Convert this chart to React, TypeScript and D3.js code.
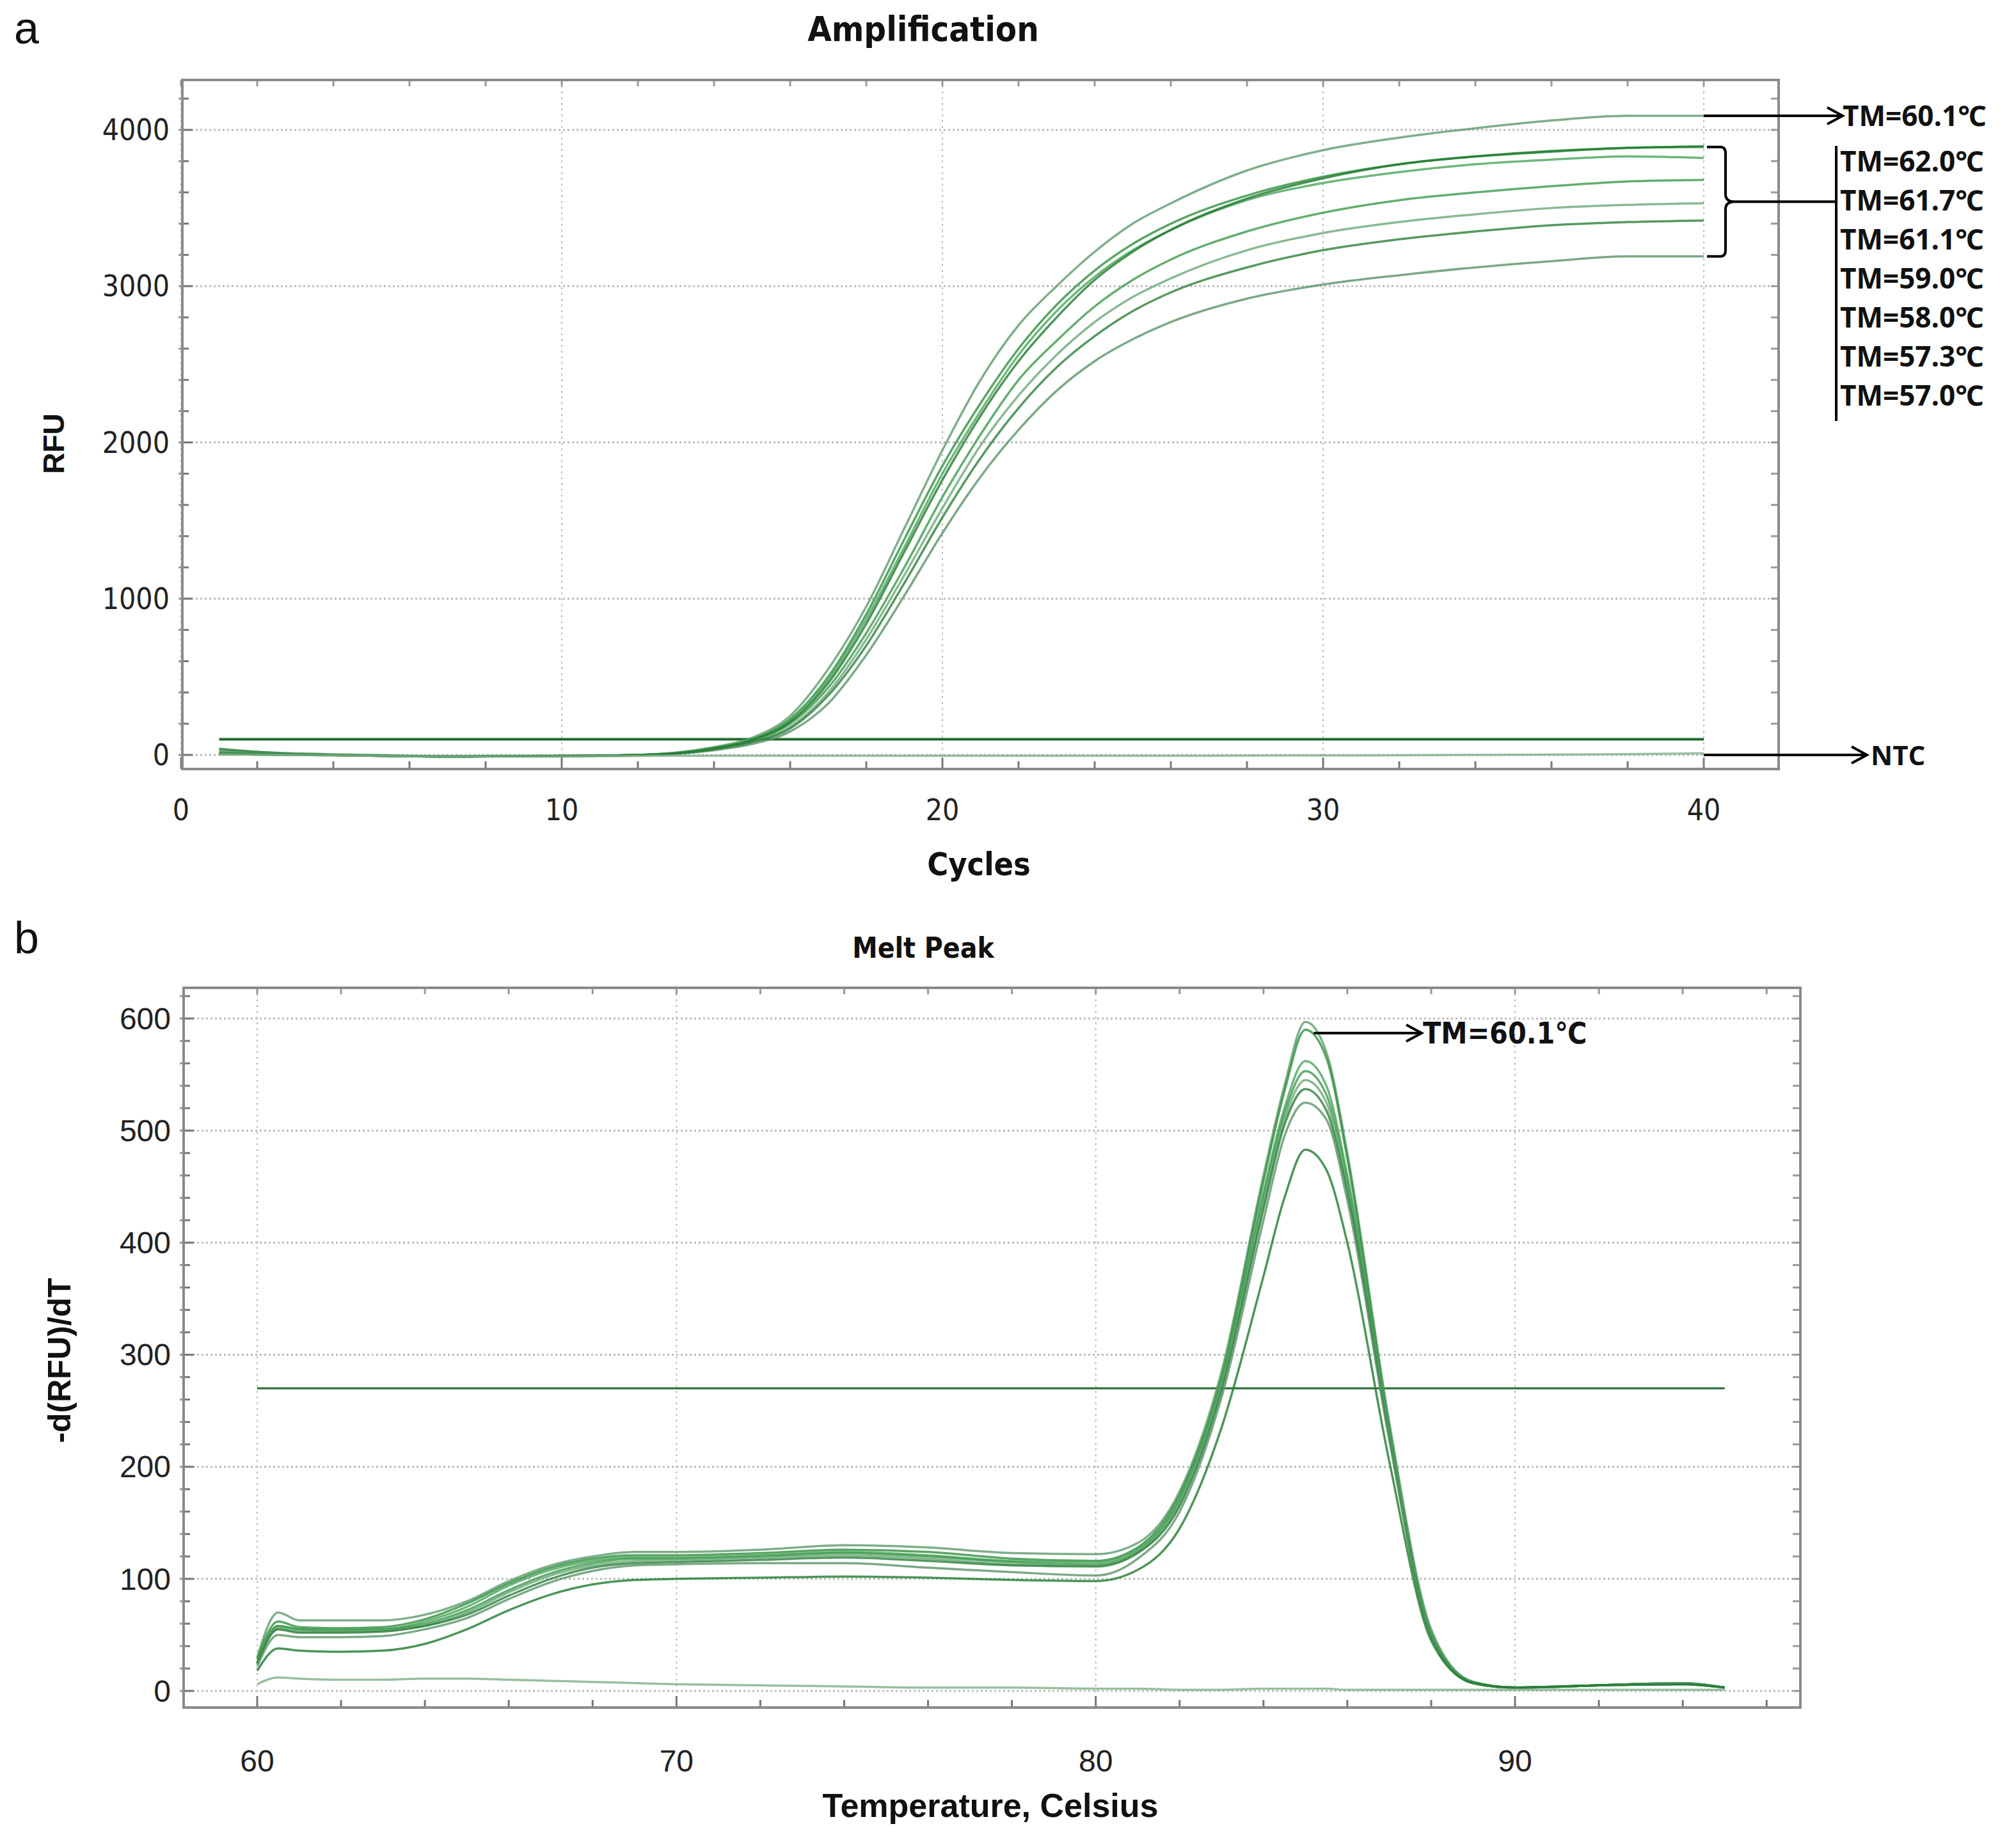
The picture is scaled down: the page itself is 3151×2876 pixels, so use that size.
import * as d3 from 'd3';

// ---------- panel a: amplification ----------
const cycles = [1, 3, 5, 7, 9, 11, 12, 13, 14, 15, 16, 17, 18, 19, 20, 21, 22, 23, 24, 25, 26, 28, 30, 32, 34, 36, 38, 40];
const ampA = [30, 10, 0, -8, -5, -5, 0, 15, 50, 110, 250, 550, 950, 1450, 1950, 2400, 2750, 3000, 3220, 3400, 3530, 3740, 3870, 3950, 4010, 4060, 4090, 4090];
const ampB = [10, 5, -3, -10, -8, -5, 0, 12, 45, 100, 230, 500, 900, 1380, 1850, 2250, 2600, 2880, 3100, 3270, 3400, 3580, 3700, 3780, 3830, 3860, 3885, 3890];
const ampC = [5, 3, -3, -10, -8, -5, 0, 12, 45, 100, 220, 480, 870, 1330, 1800, 2200, 2560, 2840, 3060, 3230, 3360, 3550, 3660, 3730, 3780, 3810, 3830, 3820];
const ampD = [5, 0, -5, -10, -8, -5, 0, 10, 40, 90, 200, 430, 780, 1200, 1650, 2050, 2400, 2650, 2870, 3040, 3170, 3350, 3470, 3550, 3600, 3640, 3670, 3680];
const ampE = [5, 0, -5, -10, -8, -5, 0, 10, 38, 85, 180, 400, 740, 1150, 1580, 1980, 2300, 2560, 2770, 2930, 3050, 3230, 3340, 3410, 3460, 3500, 3520, 3530];
const ampF = [40, 5, -5, -10, -8, -5, 0, 8, 35, 80, 170, 380, 700, 1100, 1520, 1900, 2220, 2480, 2680, 2840, 2960, 3120, 3230, 3300, 3350, 3390, 3410, 3420];
const ampG = [20, 5, -5, -10, -8, -5, 0, 8, 30, 70, 150, 330, 640, 1020, 1420, 1780, 2080, 2330, 2520, 2660, 2770, 2920, 3010, 3070, 3120, 3160, 3190, 3190];
const ampH = [10, 3, -5, -10, -8, -5, 0, 10, 40, 95, 210, 460, 840, 1300, 1760, 2170, 2520, 2800, 3040, 3220, 3360, 3560, 3690, 3780, 3830, 3865, 3885, 3895];
const ntc = [5, 0, -5, -10, -10, -8, -6, -5, -5, -5, -5, -5, -5, -5, -5, -5, -5, -5, -5, -5, -5, -4, -3, -2, 0, 2, 5, 10];
const ampSeries = [ampA, ampB, ampC, ampD, ampE, ampF, ampG, ampH, ntc];
const ampThreshold = 100;
const tmLabels = ['TM=62.0℃', 'TM=61.7℃', 'TM=61.1℃', 'TM=59.0℃', 'TM=58.0℃', 'TM=57.3℃', 'TM=57.0℃'];

// ---------- panel b: melt peak ----------
const temps = [60, 60.5, 61, 62, 63, 64, 65, 66, 67, 68, 69, 70, 72, 74, 76, 78, 80, 81, 82, 83, 84, 84.5, 85, 85.5, 86, 87, 88, 89, 90, 92, 94, 95];
const melt1 = [30, 70, 63, 63, 63, 68, 80, 98, 112, 120, 124, 124, 126, 130, 128, 123, 122, 132, 178, 285, 460, 540, 597, 570, 480, 240, 55, 8, 3, 5, 7, 3];
const melt2 = [28, 62, 57, 56, 57, 64, 78, 96, 110, 118, 121, 121, 123, 126, 124, 118, 116, 128, 175, 280, 455, 535, 590, 565, 475, 235, 52, 8, 3, 5, 7, 3];
const melt3 = [25, 58, 55, 55, 55, 62, 75, 94, 108, 116, 119, 119, 121, 124, 121, 116, 115, 127, 172, 278, 445, 520, 562, 540, 460, 232, 52, 8, 3, 5, 7, 3];
const melt4 = [25, 58, 55, 54, 55, 60, 72, 90, 105, 114, 118, 118, 120, 123, 120, 115, 113, 125, 170, 275, 440, 515, 553, 532, 455, 230, 50, 7, 3, 5, 7, 3];
const melt5 = [25, 56, 53, 53, 54, 58, 70, 88, 103, 112, 116, 117, 119, 121, 118, 113, 112, 124, 168, 272, 435, 510, 545, 525, 450, 228, 50, 7, 3, 5, 7, 3];
const melt6 = [24, 55, 52, 52, 53, 58, 68, 85, 100, 110, 114, 115, 117, 119, 116, 112, 111, 123, 165, 268, 430, 505, 537, 518, 445, 226, 49, 7, 3, 5, 6, 3];
const melt7 = [22, 50, 48, 48, 49, 55, 65, 82, 97, 107, 112, 113, 114, 114, 110, 106, 103, 118, 160, 262, 420, 495, 525, 510, 438, 224, 48, 7, 3, 5, 6, 3];
const melt8 = [18, 38, 36, 35, 36, 42, 55, 72, 86, 95, 99, 100, 101, 102, 101, 99, 98, 108, 145, 235, 370, 440, 483, 465, 400, 205, 45, 7, 3, 5, 6, 3];
const meltNtc = [6, 12, 11, 10, 10, 11, 11, 10, 9, 8, 7, 6, 5, 4, 3, 3, 2, 2, 1, 1, 2, 2, 2, 2, 1, 1, 1, 1, 1, 1, 1, 1];
const meltSeries = [melt1, melt2, melt3, melt4, melt5, melt6, melt7, melt8, meltNtc];
const meltThreshold = 270;

const lineColors = ['#5e9a6e', '#2f8f3f', '#4aa55a', '#3c9a4c', '#6aa878', '#2a7f3a', '#5a9468', '#1f7a30', '#7fae88'];
const NARROW = '"Liberation Sans Narrow", "DejaVu Sans Condensed", "Arial Narrow", sans-serif';
const SANS = '"Liberation Sans", Arial, sans-serif';
const LABEL = '"Open Sans", "Noto Sans", sans-serif';

function Frame({ L, R, T, B, x, y, xTicks, yTicks, xMinor, yMinor, xFont, yFont, tickSize }: any) {
  return (
    <g>
      {xTicks.map((t: number) => (
        <line key={'gx' + t} x1={x(t)} x2={x(t)} y1={T} y2={B} stroke="#bbb" strokeWidth={2} strokeDasharray="3,6" />
      ))}
      {yTicks.map((t: number) => (
        <line key={'gy' + t} x1={L} x2={R} y1={y(t)} y2={y(t)} stroke="#bbb" strokeWidth={3} strokeDasharray="3,4" />
      ))}
      {xMinor.map((t: number) => (
        <g key={'mx' + t}>
          <line x1={x(t)} x2={x(t)} y1={B} y2={B - (xTicks.includes(t) ? 18 : 12)} stroke="#777" strokeWidth={3} />
          <line x1={x(t)} x2={x(t)} y1={T} y2={T + 10} stroke="#999" strokeWidth={3} />
        </g>
      ))}
      {yMinor.map((t: number) => (
        <g key={'my' + t}>
          <line x1={L} x2={L + (yTicks.includes(t) ? 16 : 10)} y1={y(t)} y2={y(t)} stroke="#777" strokeWidth={3} />
          <line x1={L - 6} x2={L} y1={y(t)} y2={y(t)} stroke="#999" strokeWidth={3} />
          <line x1={R - 12} x2={R} y1={y(t)} y2={y(t)} stroke="#999" strokeWidth={3} />
        </g>
      ))}
      <rect x={L} y={T} width={R - L} height={B - T} fill="none" stroke="#8a8a8a" strokeWidth={4} />
      {xTicks.map((t: number) => (
        <text key={'tx' + t} x={x(t)} y={B + tickSize.xOff} textAnchor="middle" fontFamily={xFont} fontSize={tickSize.size} fill="#222">{t}</text>
      ))}
      {yTicks.map((t: number) => (
        <text key={'ty' + t} x={L - 20} y={y(t)} dy="0.35em" textAnchor="end" fontFamily={yFont} fontSize={tickSize.size} fill="#222">{t}</text>
      ))}
    </g>
  );
}

function Arrow({ x1, x2, y }: { x1: number; x2: number; y: number }) {
  return (
    <g stroke="#000" strokeWidth={4} fill="none">
      <line x1={x1} x2={x2} y1={y} y2={y} />
      <polyline points={`${x2 - 24},${y - 13} ${x2},${y} ${x2 - 24},${y + 13}`} />
    </g>
  );
}

export default function App() {
  // panel a
  const aL = 285, aR = 2780, aT = 125, aB = 1202;
  const xa = d3.scaleLinear().domain([0, 40]).range([283, 2663]);
  const ya = d3.scaleLinear().domain([0, 4000]).range([1180, 203]);
  const lineA = d3.line<number>().x((_, i) => xa(cycles[i])).y((d) => ya(d)).curve(d3.curveMonotoneX);

  // panel b
  const bL = 287, bR = 2814, bT = 1544, bB = 2669;
  const xb = d3.scaleLinear().domain([60, 90]).range([402, 2368]);
  const yb = d3.scaleLinear().domain([0, 600]).range([2643, 1592]);
  const lineB = d3.line<number>().x((_, i) => xb(temps[i])).y((d) => yb(d)).curve(d3.curveMonotoneX);

  const bracketX = 2697;
  const yTop = ya(3890), yBot = ya(3190), yMid = (yTop + yBot) / 2;
  const stackX = 2870;

  return (
    <svg width={3151} height={2876} style={{ position: 'absolute', left: 0, top: 0, background: '#fff' }}>
      <rect width={3151} height={2876} fill="#fff" />
      {/* ---------- a ---------- */}
      <text x={22} y={68} fontFamily={SANS} fontSize={70} fill="#111">a</text>
      <text x={1443} y={64} textAnchor="middle" fontFamily={NARROW} fontWeight="bold" fontSize={54} fill="#111">Amplification</text>
      <Frame L={aL} R={aR} T={aT} B={aB} x={xa} y={ya}
        xTicks={[0, 10, 20, 30, 40]} yTicks={[0, 1000, 2000, 3000, 4000]}
        xMinor={d3.range(0, 42, 2)} yMinor={d3.range(0, 4201, 200)}
        xFont={NARROW} yFont={NARROW} tickSize={{ size: 46, xOff: 80 }} />
      <text x={100} y={(aT + aB) / 2 + 30} transform={`rotate(-90 100 ${(aT + aB) / 2 + 30})`} textAnchor="middle" fontFamily={SANS} fontWeight="bold" fontSize={46} fill="#111">RFU</text>
      <text x={1530} y={1368} textAnchor="middle" fontFamily={NARROW} fontWeight="bold" fontSize={50} fill="#111">Cycles</text>
      <line x1={xa(1)} x2={xa(40)} y1={ya(ampThreshold)} y2={ya(ampThreshold)} stroke="#1f6b2f" strokeWidth={4} />
      {ampSeries.map((s, i) => (
        <path key={'a' + i} d={lineA(s) ?? ''} fill="none" stroke={lineColors[i]} strokeWidth={3.5} strokeOpacity={0.8} />
      ))}
      {/* annotations a */}
      <Arrow x1={xa(40)} x2={2880} y={ya(4090)} />
      <text x={2880} y={ya(4090) + 16} fontFamily={LABEL} fontWeight="bold" fontSize={44} fill="#111">TM=60.1℃</text>
      <path d={`M${xa(40) + 5},${yTop} L${bracketX - 8},${yTop} Q${bracketX},${yTop} ${bracketX},${yTop + 10} L${bracketX},${yMid - 12} Q${bracketX},${yMid} ${bracketX + 14},${yMid} L${stackX},${yMid} M${bracketX + 14},${yMid} Q${bracketX},${yMid} ${bracketX},${yMid + 12} L${bracketX},${yBot - 10} Q${bracketX},${yBot} ${bracketX - 8},${yBot} L${xa(40) + 5},${yBot}`}
        fill="none" stroke="#000" strokeWidth={4} />
      <line x1={stackX} x2={stackX} y1={228} y2={658} stroke="#000" strokeWidth={4} />
      {tmLabels.map((t, i) => (
        <text key={t} x={stackX + 6} y={268 + i * 61} fontFamily={LABEL} fontWeight="bold" fontSize={44} fill="#111">{t}</text>
      ))}
      <Arrow x1={xa(40)} x2={2918} y={ya(0)} />
      <text x={2924} y={ya(0) + 16} fontFamily={LABEL} fontWeight="bold" fontSize={42} fill="#111">NTC</text>

      {/* ---------- b ---------- */}
      <text x={22} y={1490} fontFamily={SANS} fontSize={70} fill="#111">b</text>
      <text x={1443} y={1497} textAnchor="middle" fontFamily={NARROW} fontWeight="bold" fontSize={44} fill="#111">Melt Peak</text>
      <Frame L={bL} R={bR} T={bT} B={bB} x={xb} y={yb}
        xTicks={[60, 70, 80, 90]} yTicks={[0, 100, 200, 300, 400, 500, 600]}
        xMinor={d3.range(60, 97, 2)} yMinor={d3.range(0, 621, 20)}
        xFont={SANS} yFont={SANS} tickSize={{ size: 48, xOff: 100 }} />
      <text x={110} y={(bT + bB) / 2 + 20} transform={`rotate(-90 110 ${(bT + bB) / 2 + 20})`} textAnchor="middle" fontFamily={SANS} fontWeight="bold" fontSize={50} fill="#111">-d(RFU)/dT</text>
      <text x={1548} y={2840} textAnchor="middle" fontFamily={SANS} fontWeight="bold" fontSize={52} fill="#111">Temperature, Celsius</text>
      <line x1={xb(60)} x2={xb(95)} y1={yb(meltThreshold)} y2={yb(meltThreshold)} stroke="#1f6b2f" strokeWidth={3} />
      {meltSeries.map((s, i) => (
        <path key={'b' + i} d={lineB(s) ?? ''} fill="none" stroke={lineColors[i]} strokeWidth={3.5} strokeOpacity={0.8} />
      ))}
      <Arrow x1={xb(85.2)} x2={2222} y={yb(587)} />
      <text x={2224} y={yb(587) + 16} fontFamily={NARROW} fontWeight="bold" fontSize={46} fill="#111">TM=60.1℃</text>
    </svg>
  );
}
